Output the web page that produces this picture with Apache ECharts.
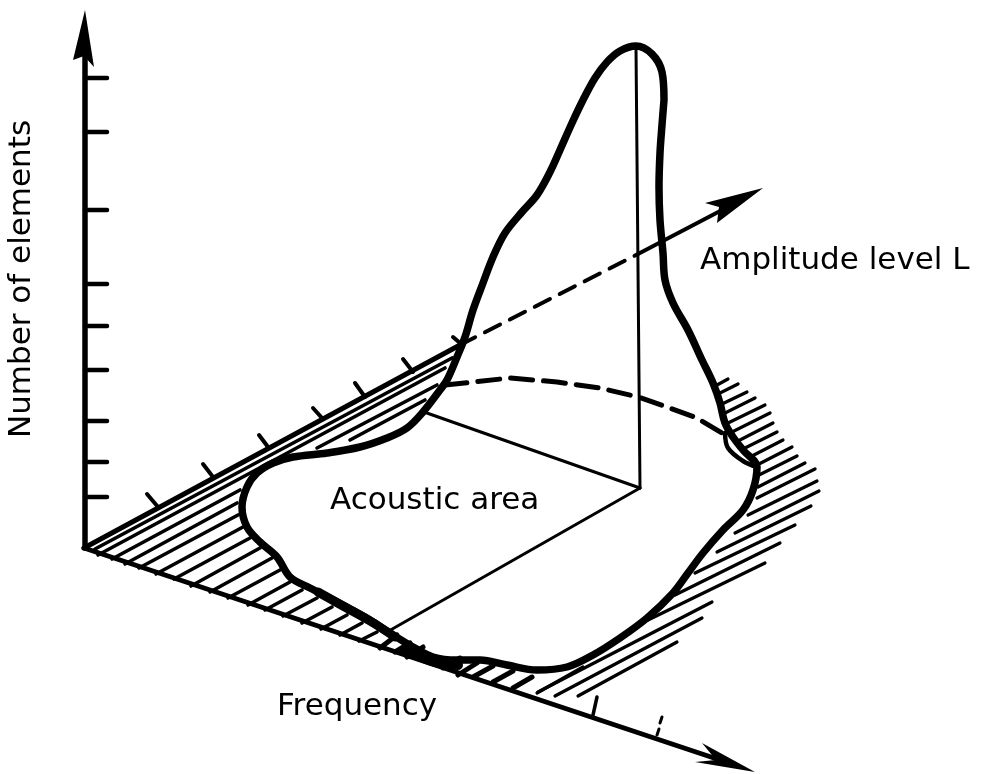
<!DOCTYPE html>
<html>
<head>
<meta charset="utf-8">
<style>html,body{margin:0;background:#fff}#chart{width:983px;height:774px}</style>
<script src="https://cdn.jsdelivr.net/npm/echarts@6/dist/echarts.min.js"></script>
</head>
<body>
<div id="chart"></div>
<script>
// everything in image coordinates, y goes down

// outline of the acoustic area and its peak
const contour = [[664,100],[662,72],[652,54],[636,46],[620,51],[607,62],[595,78],[583,100],[572,123],[560,150],[550,172],[537,195],[522,212],[505,233],[493,257],[483,283],[473,310],[465,337],[457,357],[447,380],[440,390],[423,412],[407,428],[387,438],[360,447],[327,453],[293,457],[273,463],[257,473],[247,487],[242,507],[247,527],[260,542],[277,557],[290,577],[310,588],[343,605],[370,620],[390,633],[413,647],[433,657],[457,660],[480,660],[507,665],[537,670],[567,667],[593,655],[620,638],[647,618],[673,593],[688,573],[703,553],[723,530],[743,510],[753,490],[757,467],[743,450],[733,437],[725,423],[720,403],[713,383],[702,360],[688,330],[673,303],[665,280],[663,253],[660,220],[659,187],[660,153],[662,125],[664,100]];
const contourLobe = [[725,433],[728,448],[743,461],[757,467]];
const contourBandLeft = [[318,592],[343,606],[370,621],[395,637]];
const contourBandBottom = [[405,650],[435,662],[458,665]];
const hearingArc = [[445,385],[473,382],[510,378],[557,382],[600,388],[638,397],[667,407],[697,418],[722,433]];

// axes
const numberAxis = [[85,548],[85,30]];
const amplitudeSolid = [[84,548],[460,345]];
const amplitudeDashed = [[460,345],[638,254]];
const amplitudeEnd = [[638,254],[745,198]];
const frequencyAxis = [[84,548],[735,765]];
const thinLines = [[636,48,640,488],[640,488,387,632],[640,488,424,412]];

// ticks
const numberTicks = [78,132,210,284,326,370,421,462,497];
const amplitudeTicks = [[158,507,147,494],[213,477,203,464],[268,447,259,435],[322,418,313,408],[365,397,355,383],[413,372,403,359],[460,343,453,337]];
const frequencyTicks = [[593,715,597,697]];
const frequencyDotted = [[657,735,659,729],[660,723,662,717]];

// hatching
const hatchLeft = [[95,549,452,358],[98,555,445,368],[112,559,240,490],[317,448,437,385],[125,564,237,503],[350,440,425,400],[139,568,238,515],[156,574,243,527],[174,579,250,538],[191,586,260,548],[210,592,272,558],[228,598,280,570],[248,605,290,582],[265,610,302,590],[283,616,317,598],[302,623,332,607],[321,629,347,615],[340,635,362,623],[359,641,377,632]];
const hatchBottom = [[380,648,397,635],[395,652,410,643],[407,657,423,647],[443,668,460,658],[458,675,477,663],[473,677,493,666],[493,682,513,671],[513,688,532,677]];
const hatchRight = [[537,693,583,667],[538,692,712,602],[555,696,702,618],[578,696,677,642],[648,620,765,563],[675,595,780,543],[695,573,795,525],[717,552,811,506],[735,533,819,491],[748,515,817,481],[757,498,815,469],[758,487,805,463],[757,476,797,456],[757,465,792,447],[750,457,783,440],[745,448,777,432],[738,441,773,423],[730,433,770,413],[728,423,765,405],[725,413,755,398],[722,404,747,392],[718,394,738,384],[717,385,728,379]];

// arrow heads
const arrowHeads = [
  [[85,10],[73,60],[84,56],[94,67]],
  [[763,188],[705,203],[719,207],[717,223]],
  [[755,772],[702,743],[716,760],[695,762]]
];

const labels = [
  { text: "Number of elements", x: 22, y: 279, rotation: Math.PI / 2 },
  { text: "Amplitude level L", x: 700, y: 261 },
  { text: "Acoustic area", x: 330, y: 501 },
  { text: "Frequency", x: 277, y: 707 }
];

const path = (data, width, dash) => ({
  type: "line",
  data,
  showSymbol: false,
  silent: true,
  animation: false,
  lineStyle: { color: "#000", width, type: dash || "solid", cap: "round", join: "round" }
});

const segments = (data, width) => ({
  type: "custom",
  data,
  silent: true,
  animation: false,
  clip: false,
  renderItem: (params, api) => {
    const a = api.coord([api.value(0), api.value(1)]);
    const b = api.coord([api.value(2), api.value(3)]);
    return {
      type: "line",
      shape: { x1: a[0], y1: a[1], x2: b[0], y2: b[1] },
      style: { stroke: "#000", lineWidth: width, lineCap: "round" }
    };
  }
});

const myChart = echarts.init(document.getElementById("chart"), null, { renderer: "canvas" });
const option = {
  backgroundColor: "#fff",
  animation: false,
  grid: { left: 0, right: 0, top: 0, bottom: 0 },
  xAxis: { type: "value", min: 0, max: 983, show: false },
  yAxis: { type: "value", min: 0, max: 774, inverse: true, show: false },
  series: [
    segments(hatchLeft, 3.6),
    segments(hatchBottom, 5),
    segments(hatchRight, 3.2),
    path(numberAxis, 5.5),
    path(amplitudeSolid, 5),
    path(amplitudeDashed, 4, [17, 11]),
    path(amplitudeEnd, 4),
    path(frequencyAxis, 5),
    segments(thinLines, 3),
    segments(numberTicks.map((y) => [85, y, 107, y]), 4.5),
    segments(amplitudeTicks, 4),
    segments(frequencyTicks, 3.5),
    segments(frequencyDotted, 3),
    path(hearingArc, 5, [22, 11]),
    Object.assign(path(contour, 7.5), { smooth: 0.35 }),
    Object.assign(path(contourLobe, 4.5), { smooth: 0.35 }),
    Object.assign(path(contourBandLeft, 9), { smooth: 0.35 }),
    Object.assign(path(contourBandBottom, 10), { smooth: 0.35 }),
    {
      type: "custom",
      data: arrowHeads.map((points, i) => [i]),
      silent: true,
      animation: false,
      clip: false,
      renderItem: (params, api) => ({
        type: "polygon",
        shape: { points: arrowHeads[api.value(0)].map((p) => api.coord(p)) },
        style: { fill: "#000" }
      })
    }
  ],
  graphic: labels.map((l) => ({
    type: "text",
    x: l.x,
    y: l.y,
    rotation: l.rotation || 0,
    style: {
      text: l.text,
      fill: "#000",
      font: "31px 'DejaVu Sans'",
      textVerticalAlign: "middle",
      textAlign: l.rotation ? "center" : "left"
    }
  }))
};
option && myChart.setOption(option);
</script>
</body>
</html>
